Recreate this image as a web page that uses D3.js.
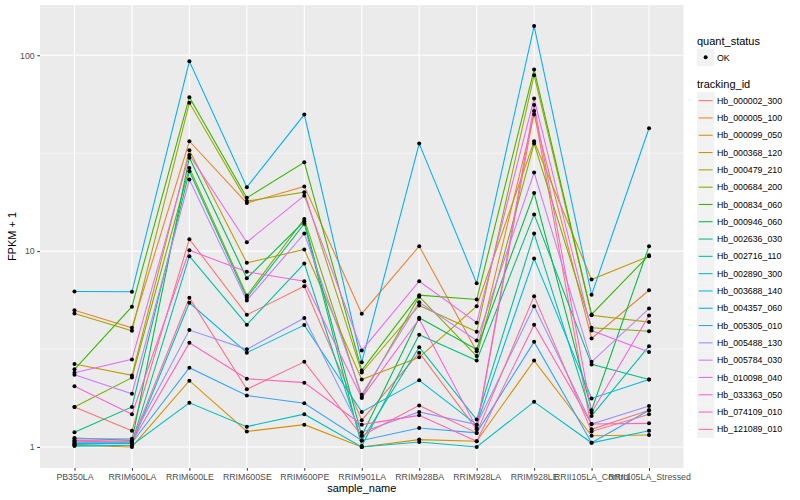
<!DOCTYPE html>
<html>
<head>
<meta charset="utf-8">
<script src="https://cdn.jsdelivr.net/npm/d3@7"></script>
<style>
  body { margin: 0; background: #fff; }
  svg text { font-family: "Liberation Sans", Arial, sans-serif; }
</style>
</head>
<body>
<div id="chart"></div>
<script>
// samples on the x axis
var samples = ["PB350LA", "RRIM600LA", "RRIM600LE", "RRIM600SE", "RRIM600PE", "RRIM901LA",
  "RRIM928BA", "RRIM928LA", "RRIM928LE", "RRII105LA_Control", "RRII105LA_Stressed"];

// tracking ids (legend order)
var trackingIds = ["Hb_000002_300", "Hb_000005_100", "Hb_000099_050", "Hb_000368_120", "Hb_000479_210",
  "Hb_000684_200", "Hb_000834_060", "Hb_000946_060", "Hb_002636_030", "Hb_002716_110",
  "Hb_002890_300", "Hb_003688_140", "Hb_004357_060", "Hb_005305_010", "Hb_005488_130",
  "Hb_005784_030", "Hb_010098_040", "Hb_033363_050", "Hb_074109_010", "Hb_121089_010"];

// FPKM + 1, one row per tracking id, one value per sample
var fpkm = [
  [1.60, 1.21, 11.5, 4.73, 6.62, 1.37, 3.03, 1.23, 52.0, 1.23, 1.54],
  [4.99, 4.06, 36.4, 17.6, 21.4, 4.79, 10.6, 3.08, 49.8, 3.58, 6.31],
  [1.02, 1.00, 2.18, 1.20, 1.30, 1.00, 1.09, 1.07, 2.76, 1.14, 1.15],
  [2.65, 2.32, 32.7, 8.71, 10.2, 2.21, 2.87, 5.23, 36.4, 7.16, 9.42],
  [4.80, 3.92, 57.2, 18.0, 20.0, 2.40, 5.28, 3.87, 79.1, 4.70, 4.34],
  [1.60, 2.26, 26.6, 5.93, 14.6, 1.80, 5.85, 2.91, 35.4, 4.06, 3.90],
  [2.49, 5.20, 61.1, 18.7, 28.4, 2.46, 5.96, 5.66, 84.5, 4.75, 9.53],
  [1.11, 1.08, 30.0, 7.27, 14.2, 1.14, 4.57, 3.15, 19.8, 1.54, 10.6],
  [1.19, 1.60, 25.6, 5.78, 13.8, 1.01, 3.74, 2.76, 15.4, 2.64, 2.21],
  [1.03, 1.05, 9.42, 4.21, 8.64, 1.08, 3.23, 1.38, 12.3, 1.44, 3.27],
  [1.01, 1.02, 1.68, 1.27, 1.47, 1.00, 1.06, 1.00, 1.70, 1.05, 1.21],
  [1.04, 1.04, 5.45, 3.03, 4.19, 1.51, 2.19, 1.30, 9.17, 1.77, 2.21],
  [6.22, 6.20, 93.2, 21.2, 49.8, 2.71, 35.4, 6.86, 141, 5.98, 42.4],
  [1.05, 1.05, 2.54, 1.83, 1.67, 1.08, 1.25, 1.18, 3.44, 1.05, 1.54],
  [1.10, 1.10, 3.95, 3.15, 4.55, 1.19, 1.51, 1.30, 5.23, 1.31, 1.62],
  [2.34, 1.87, 23.2, 5.60, 12.3, 1.85, 5.48, 3.50, 25.2, 2.72, 5.09],
  [2.39, 2.80, 31.0, 11.1, 19.2, 3.11, 7.02, 4.31, 60.1, 3.93, 3.05],
  [2.04, 1.47, 10.1, 7.84, 7.02, 1.78, 4.50, 1.25, 55.8, 1.50, 4.69],
  [1.07, 1.06, 3.40, 2.23, 2.13, 1.30, 1.45, 1.07, 4.21, 1.31, 1.32],
  [1.08, 1.07, 5.78, 1.97, 2.72, 1.14, 1.63, 1.18, 5.89, 1.20, 1.47]
];

// ggplot default hue palette for 20 levels
var palette = ["#F8766D", "#EA8331", "#D89000", "#C09B00", "#A3A500", "#7CAE00", "#39B600", "#00BB4E",
  "#00BF7D", "#00C1A3", "#00BFC4", "#00BAE0", "#00B0F6", "#35A2FF", "#9590FF", "#C77CFF",
  "#E76BF3", "#FA62DB", "#FF62BC", "#FF6C91"];

var yBreaks = [1, 10, 100];
var yMinor = [Math.pow(10, 0.5), Math.pow(10, 1.5)];

var width = 800, height = 500;
var panel = { left: 40, right: 683.5, top: 5, bottom: 468 };

var svg = d3.select("#chart").append("svg")
  .attr("width", width)
  .attr("height", height);

// scales
var x = d3.scalePoint()
  .domain(samples)
  .range([panel.left, panel.right])
  .padding(0.6);

var allVals = d3.merge(fpkm);
var lo = Math.log10(d3.min(allVals)), hi = Math.log10(d3.max(allVals));
var pad = (hi - lo) * 0.05;
var y = d3.scaleLog()
  .domain([Math.pow(10, lo - pad), Math.pow(10, hi + pad)])
  .range([panel.bottom, panel.top]);

var color = d3.scaleOrdinal().domain(trackingIds).range(palette);

// panel background + grid
svg.append("rect")
  .attr("x", panel.left).attr("y", panel.top)
  .attr("width", panel.right - panel.left)
  .attr("height", panel.bottom - panel.top)
  .attr("fill", "#EBEBEB");

svg.selectAll(".minor").data(yMinor).enter().append("line")
  .attr("x1", panel.left).attr("x2", panel.right)
  .attr("y1", function(d) { return y(d); }).attr("y2", function(d) { return y(d); })
  .attr("stroke", "#fff").attr("stroke-width", 0.55);

svg.selectAll(".hgrid").data(yBreaks).enter().append("line")
  .attr("x1", panel.left).attr("x2", panel.right)
  .attr("y1", function(d) { return y(d); }).attr("y2", function(d) { return y(d); })
  .attr("stroke", "#fff").attr("stroke-width", 1.1);

svg.selectAll(".vgrid").data(samples).enter().append("line")
  .attr("x1", function(d) { return x(d); }).attr("x2", function(d) { return x(d); })
  .attr("y1", panel.top).attr("y2", panel.bottom)
  .attr("stroke", "#fff").attr("stroke-width", 1.1);

// lines
var line = d3.line()
  .x(function(d, i) { return x(samples[i]); })
  .y(function(d) { return y(d); });

svg.selectAll(".series").data(fpkm).enter().append("path")
  .attr("d", line)
  .attr("fill", "none")
  .attr("stroke", function(d, i) { return color(trackingIds[i]); })
  .attr("stroke-width", 1.07);

// points
var pts = [];
fpkm.forEach(function(row, s) {
  row.forEach(function(v, i) { pts.push({ sample: samples[i], value: v }); });
});
svg.selectAll(".pt").data(pts).enter().append("circle")
  .attr("cx", function(d) { return x(d.sample); })
  .attr("cy", function(d) { return y(d.value); })
  .attr("r", 2)
  .attr("fill", "#000");

// axes
var xAxis = svg.append("g")
  .attr("transform", "translate(0," + panel.bottom + ")")
  .call(d3.axisBottom(x).tickSize(2.75).tickPadding(3));
xAxis.select(".domain").remove();
xAxis.selectAll("line").attr("stroke", "#333333");
xAxis.selectAll("text").attr("fill", "#4D4D4D").style("font-size", "8.8px");

var yAxis = svg.append("g")
  .attr("transform", "translate(" + panel.left + ",0)")
  .call(d3.axisLeft(y).tickValues(yBreaks).tickFormat(d3.format("d")).tickSize(2.75).tickPadding(2.5));
yAxis.select(".domain").remove();
yAxis.selectAll("line").attr("stroke", "#333333");
yAxis.selectAll("text").attr("fill", "#4D4D4D").style("font-size", "8.8px");

// axis titles
svg.append("text")
  .attr("x", (panel.left + panel.right) / 2)
  .attr("y", 492)
  .attr("text-anchor", "middle")
  .style("font-size", "11px")
  .text("sample_name");

svg.append("text")
  .attr("transform", "translate(16," + ((panel.top + panel.bottom) / 2) + ") rotate(-90)")
  .attr("text-anchor", "middle")
  .style("font-size", "11px")
  .text("FPKM + 1");

// legend: quant_status
var lx = 697;
svg.append("text").attr("x", lx).attr("y", 44.5).style("font-size", "11px").text("quant_status");
svg.append("rect").attr("x", lx).attr("y", 48.7).attr("width", 17.3).attr("height", 17.3).attr("fill", "#F2F2F2");
svg.append("circle").attr("cx", lx + 8.65).attr("cy", 57.35).attr("r", 2).attr("fill", "#000");
svg.append("text").attr("x", lx + 20).attr("y", 60.5).style("font-size", "8.8px").text("OK");

// legend: tracking_id
svg.append("text").attr("x", lx).attr("y", 88).style("font-size", "11px").text("tracking_id");
var keyTop = 92;
var keys = svg.selectAll(".key").data(trackingIds).enter().append("g")
  .attr("transform", function(d, i) { return "translate(" + lx + "," + (keyTop + i * 17.3) + ")"; });
keys.append("rect").attr("width", 17.3).attr("height", 17.3).attr("fill", "#F2F2F2");
keys.append("line")
  .attr("x1", 1.7).attr("x2", 15.6).attr("y1", 8.65).attr("y2", 8.65)
  .attr("stroke", function(d) { return color(d); })
  .attr("stroke-width", 1.07);
keys.append("text")
  .attr("x", 20).attr("y", 11.8)
  .style("font-size", "8.8px")
  .text(function(d) { return d; });
</script>
</body>
</html>
